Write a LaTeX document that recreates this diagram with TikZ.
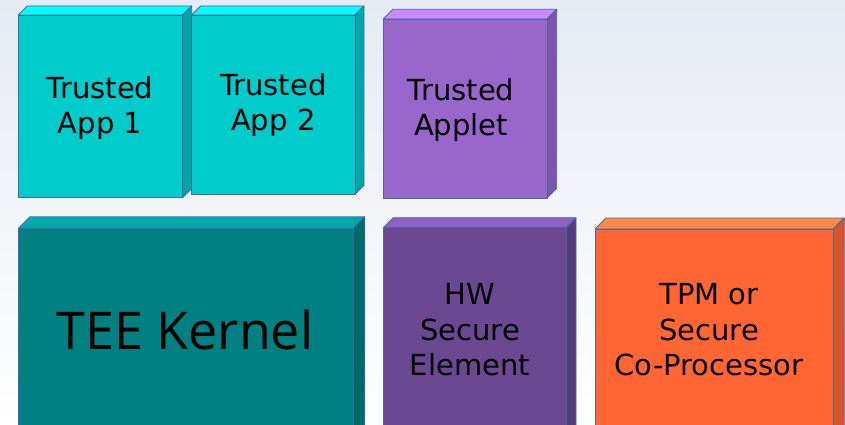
\documentclass[tikz,border=0pt]{standalone}
\usepackage{fontspec}
\setmainfont{DejaVu Sans}
\newfontfamily\kernelfont{Open Sans}
\definecolor{edgecol}{RGB}{70,105,165}
\definecolor{appF}{RGB}{0,204,204}
\definecolor{appT}{RGB}{0,255,255}
\definecolor{appS}{RGB}{0,166,166}
\definecolor{letF}{RGB}{153,102,204}
\definecolor{letT}{RGB}{204,136,255}
\definecolor{letS}{RGB}{122,85,170}
\definecolor{kerF}{RGB}{0,128,128}
\definecolor{kerT}{RGB}{0,170,170}
\definecolor{kerS}{RGB}{0,106,106}
\definecolor{hwF}{RGB}{107,72,145}
\definecolor{hwT}{RGB}{145,96,195}
\definecolor{hwS}{RGB}{88,60,122}
\definecolor{tpmF}{RGB}{255,102,51}
\definecolor{tpmT}{RGB}{255,136,68}
\definecolor{tpmS}{RGB}{214,85,43}
\definecolor{bgtop}{RGB}{230,234,242}
\tikzset{
  face/.style={draw=edgecol, line width=0.8pt, line join=round},
  label/.style={align=center, text=black, font=\fontsize{29}{35.5}\selectfont, inner sep=0pt},
}
% \cuboid{x1}{y1}{x2}{y2}{depth}{front}{top}{side}
\newcommand\cuboid[8]{%
  \fill[#7] (#1,#2) -- ({#1+#5},{#2-#5}) -- ({#3+#5},{#2-#5}) -- (#3,#2) -- cycle;
  \draw[face] (#1,#2) -- ({#1+#5},{#2-#5}) -- ({#3+#5},{#2-#5}) -- (#3,#2) -- cycle;
  \fill[#8] (#3,#2) -- ({#3+#5},{#2-#5}) -- ({#3+#5},{#4-#5}) -- (#3,#4) -- cycle;
  \draw[face] (#3,#2) -- ({#3+#5},{#2-#5}) -- ({#3+#5},{#4-#5}) -- (#3,#4) -- cycle;
  \fill[#6] (#1,#2) rectangle (#3,#4);
  \draw[face] (#1,#2) rectangle (#3,#4);
}
\begin{document}
\begin{tikzpicture}[x=1pt,y=-1pt]
\useasboundingbox (0,0) rectangle (845,425);
\shade[top color=bgtop, bottom color=white] (0,0) rectangle (845,425);
\begin{scope}
\clip (0,0) rectangle (845,425);
\cuboid{18.3}{15}{182.7}{197.7}{9}{appF}{appT}{appS}
\cuboid{191.7}{15}{355}{194.3}{9}{appF}{appT}{appS}
\cuboid{383.3}{19}{547}{198}{9.7}{letF}{letT}{letS}
\cuboid{18.3}{228.3}{353.3}{440}{11.5}{kerF}{kerT}{kerS}
\cuboid{383.3}{227.7}{566}{440}{10}{hwF}{hwT}{hwS}
\cuboid{595}{229}{833.3}{440}{11}{tpmF}{tpmT}{tpmS}
\end{scope}
\node[label] (app1) at (100,108) {Trusted\\App 1};
\node[label] (app2) at (273.3,105) {Trusted\\App 2};
\node[label] (applet) at (461,110) {Trusted\\Applet};
\node[label, font=\kernelfont\fontsize{52}{60}\selectfont] (kernel) at (185,330) {TEE Kernel};
\node[label] (hw) at (470,330) {HW\\Secure\\Element};
\node[label] (tpm) at (709,330) {TPM or\\Secure\\Co-Processor};
\end{tikzpicture}
\end{document}
